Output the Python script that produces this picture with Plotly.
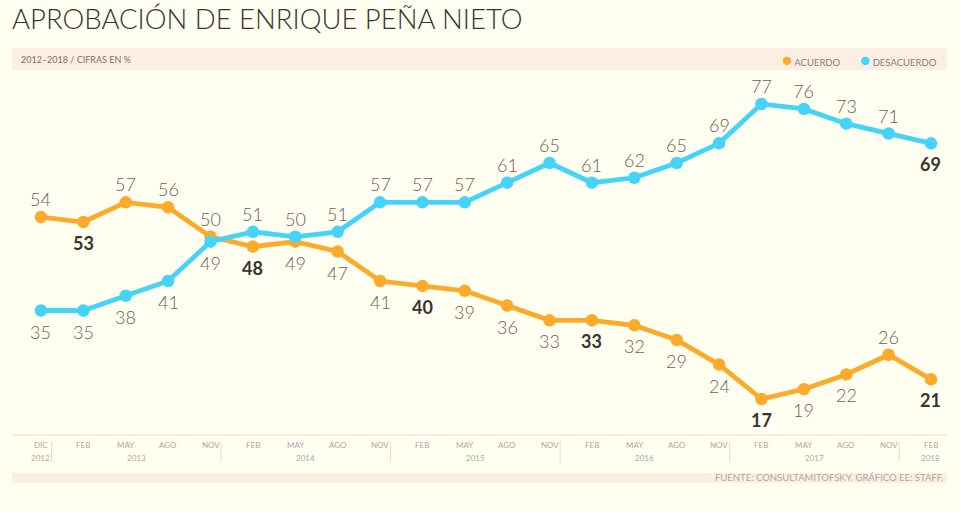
import plotly.graph_objects as go

months = ["DIC", "FEB", "MAY", "AGO", "NOV", "FEB", "MAY", "AGO", "NOV", "FEB", "MAY", "AGO",
          "NOV", "FEB", "MAY", "AGO", "NOV", "FEB", "MAY", "AGO", "NOV", "FEB"]
years = ["2012", "2013", "2014", "2015", "2016", "2017", "2018"]
acuerdo = [54, 53, 57, 56, 50, 48, 49, 47, 41, 40, 39, 36, 33, 33, 32, 29, 24, 17, 19, 22, 26, 21]
desacuerdo = [35, 35, 38, 41, 49, 51, 50, 51, 57, 57, 57, 61, 65, 61, 62, 65, 69, 77, 76, 73, 71, 69]
series_names = ["ACUERDO", "DESACUERDO"]

# label placement (1 = above, -1 = below) and bold flags
acuerdo_pos = [1, -1, 1, 1, 1, -1, -1, -1, -1, -1, -1, -1, -1, -1, -1, -1, -1, -1, -1, -1, 1, -1]
acuerdo_bold = [1, 5, 9, 13, 17, 21]
desacuerdo_pos = [-1, -1, -1, -1, -1, 1, 1, 1, 1, 1, 1, 1, 1, 1, 1, 1, 1, 1, 1, 1, 1, -1]
desacuerdo_bold = [21]

ORANGE = "#FBAA2A"
BLUE = "#45D3F8"
BG = "#FEFEF1"
BAND = "#FCEEE2"
LABEL = "#6E605B"
BOLD = "#3A3330"
TICK = "#B0A6A2"
FONT = "Lato"

x = list(range(len(months)))

fig = go.Figure()
for name, vals, col in [(series_names[0], acuerdo, ORANGE), (series_names[1], desacuerdo, BLUE)]:
    fig.add_trace(go.Scatter(x=x, y=vals, mode="lines+markers", name=name,
                             line=dict(color=col, width=4.8),
                             marker=dict(color=col, size=12.5),
                             showlegend=False, hoverinfo="skip"))

annotations = []
for vals, pos, bold in [(acuerdo, acuerdo_pos, acuerdo_bold), (desacuerdo, desacuerdo_pos, desacuerdo_bold)]:
    for i, v in enumerate(vals):
        b = i in bold
        annotations.append(dict(
            x=i, y=v, xref="x", yref="y", showarrow=False,
            text=f"<b>{v}</b>" if b else str(v),
            yshift=18 if pos[i] > 0 else -21,
            font=dict(family=FONT, size=18, color=BOLD if b else LABEL,
                      weight=700 if b else 300),
        ))

for i, m in enumerate(months):
    annotations.append(dict(x=i, y=-0.028, xref="x", yref="paper", yanchor="middle", showarrow=False,
                            text=m, font=dict(family=FONT, size=8, color=TICK)))

year_x = [0, 2.25, 6.25, 10.25, 14.25, 18.25, 21]
for yx, yr in zip(year_x, years):
    annotations.append(dict(x=yx, y=-0.064, xref="x", yref="paper", yanchor="middle", showarrow=False,
                            text=yr, font=dict(family=FONT, size=8, color=TICK)))

annotations.append(dict(x=0.007, y=1.044, xref="paper", yref="paper", xanchor="left", yanchor="middle",
                        showarrow=False, text="2012–2018 / CIFRAS EN %",
                        font=dict(family=FONT, size=9, color="#7a6e6a")))
annotations.append(dict(x=0.998, y=-0.119, xref="paper", yref="paper", xanchor="right", yanchor="middle",
                        showarrow=False, text="FUENTE: CONSULTAMITOFSKY. GRÁFICO EE: STAFF.",
                        font=dict(family=FONT, size=9.5, color="#b0a6a2")))

# legend drawn as text entries in the header band
for lx, name, col in [(0.8885, series_names[0], ORANGE), (0.9915, series_names[1], BLUE)]:
    annotations.append(dict(x=lx, y=1.044, xref="paper", yref="paper", xanchor="right", yanchor="middle",
                            showarrow=False,
                            text=f"<span style='color:{col};font-size:17px'>●</span> {name}",
                            font=dict(family=FONT, size=9.5, color="#8a7e7a")))

shapes = [
    dict(type="rect", xref="paper", yref="paper", x0=0, x1=1, y0=1.014, y1=1.075,
         fillcolor=BAND, line=dict(width=0), layer="below"),
    dict(type="rect", xref="paper", yref="paper", x0=0, x1=1, y0=-0.1333, y1=-0.1056,
         fillcolor=BAND, line=dict(width=0), layer="below"),
    dict(type="line", xref="paper", yref="paper", x0=0, x1=1, y0=0, y1=0,
         line=dict(color="#F3DCCB", width=1)),
]
for sx in [0.25, 4.25, 8.25, 12.25, 16.25, 20.25]:
    shapes.append(dict(type="line", xref="x", yref="paper", x0=sx, x1=sx, y0=-0.019, y1=-0.075,
                       line=dict(color="#E8DAD2", width=1)))

fig.update_layout(
    width=960, height=512,
    paper_bgcolor=BG, plot_bgcolor=BG,
    margin=dict(l=12, r=13, t=75, b=77),
    title=dict(text="APROBACIÓN DE ENRIQUE PEÑA NIETO", x=0.0125, xanchor="left",
               y=0.962, yanchor="middle",
               font=dict(family=FONT, size=27.5, color="#3a3330", weight=300)),
    xaxis=dict(range=[-0.684, 21.378], showgrid=False, zeroline=False, showticklabels=False,
               showline=False, fixedrange=True),
    yaxis=dict(range=[9.68, 82.9], showgrid=False, zeroline=False, showticklabels=False,
               showline=False, fixedrange=True),
    annotations=annotations,
    shapes=shapes,
    showlegend=False,
)

fig.write_html("out.html", config={"displayModeBar": False},
               post_script="document.body.style.margin='0';document.body.style.background='" + BG + "';")
